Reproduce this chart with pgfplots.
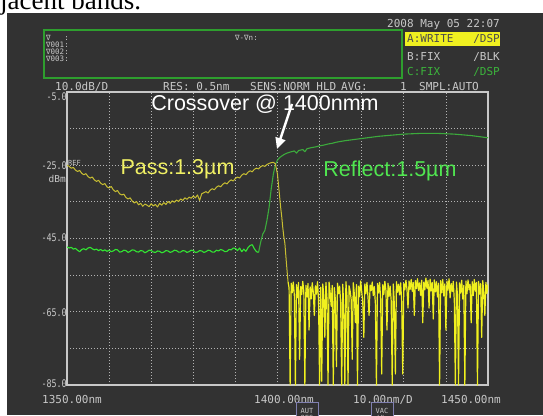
\documentclass[border=0pt]{standalone}
\usepackage{fontspec}
\setmainfont{Liberation Sans}
\newfontfamily\osa{DejaVu Sans Mono}
\newfontfamily\serif{Liberation Serif}
\usepackage{graphicx}
\usepackage{pgfplots}
\pgfplotsset{compat=1.18}
\usetikzlibrary{arrows.meta}

\definecolor{scr}{HTML}{323232}
\definecolor{framec}{HTML}{C8C8C8}
\definecolor{gridc}{HTML}{B4B4B4}
\definecolor{txt}{HTML}{C8C8C8}
\definecolor{boxgreen}{HTML}{2E9E2E}
\definecolor{hlyel}{HTML}{F0F020}
\definecolor{cgreen}{HTML}{3CB43C}
\definecolor{yelA}{HTML}{C8BE32}
\definecolor{yelB}{HTML}{F0F01E}
\definecolor{grnA}{HTML}{32E632}
\definecolor{grnB}{HTML}{3CAA3C}
\definecolor{passc}{HTML}{F0F064}
\definecolor{reflc}{HTML}{50E650}
\definecolor{btnc}{HTML}{8080B0}

\newcommand\hd{\osa\fontsize{11}{11}\selectfont}
\newcommand\tl[1]{\scalebox{0.8}[1]{\osa\fontsize{10.5}{11}\selectfont #1}}

\begin{document}
\begin{tikzpicture}[x=1pt,y=1pt]
\useasboundingbox (0,0) rectangle (543,415);
\fill[white] (0,0) rectangle (543,415);
\fill[scr] (7,0) rectangle (543,402);
\node[anchor=base west, inner sep=0, font=\serif\fontsize{27}{27}\selectfont] at (0,405) {jacent bands.};

% header
\node[anchor=base east, inner sep=0, text=txt, font=\hd] at (500,387) {2008 May 05 22:07};
\draw[boxgreen, line width=1.2pt] (44,385) rectangle (402,337);
\begin{scope}[every node/.style={anchor=base west, inner sep=0, text=txt, font=\osa\fontsize{7.5}{8}\selectfont}]
\node at (46,374) {∇\ \ \ :};
\node at (46,367) {∇001:};
\node at (46,360) {∇002:};
\node at (46,353) {∇003:};
\node at (235,374) {∇-∇n:};
\end{scope}
\fill[hlyel] (405,383) rectangle (500,369);
\begin{scope}[every node/.style={inner sep=0, font=\hd}]
\node[anchor=base west, text=black!70] at (407,372) {A:WRITE};
\node[anchor=base east, text=black!70] at (500,372) {/DSP};
\node[anchor=base west, text=txt] at (407,354) {B:FIX};
\node[anchor=base east, text=txt] at (500,354) {/BLK};
\node[anchor=base west, text=cgreen] at (407,339) {C:FIX};
\node[anchor=base east, text=cgreen] at (500,339) {/DSP};
\node[anchor=base west, text=txt] at (55,324.5) {10.0dB/D};
\node[anchor=base west, text=txt] at (163,324.5) {RES: 0.5nm};
\node[anchor=base west, text=txt] at (250,324.5) {SENS:NORM HLD};
\node[anchor=base west, text=txt] at (341,324.5) {AVG:};
\node[anchor=base west, text=txt] at (400,324.5) {1};
\node[anchor=base west, text=txt] at (419,324.5) {SMPL:AUTO};
\node[anchor=base, text=txt] at (72,11.5) {1350.00nm};
\node[anchor=base, text=txt] at (284,11.5) {1400.00nm};
\node[anchor=base, text=txt] at (383,11.5) {10.00nm/D};
\node[anchor=base, text=txt] at (471,11.5) {1450.00nm};
\end{scope}

% y labels
\begin{scope}[every node/.style={anchor=base east, inner sep=0, text=txt}]
\node at (67,314) {\tl{-5.0}};
\node at (67,245) {\tl{-25.0}};
\node at (66,232) {\osa\fontsize{9.5}{9.5}\selectfont dBm};
\node at (67,173) {\tl{-45.0}};
\node at (67,99) {\tl{-65.0}};
\node at (67,28) {\tl{-85.0}};
\end{scope}
\node[anchor=base west, inner sep=0, text=txt, font=\osa\fontsize{7}{7}\selectfont] at (68,249) {REF};

% soft keys
\draw[btnc, fill=scr, line width=1pt] (296,-10) rectangle (318,13);
\node[inner sep=0, text=txt, font=\osa\fontsize{7}{7}\selectfont, align=center] at (307,1) {AUT\\OFS};
\draw[btnc, fill=scr, line width=1pt] (371,-10) rectangle (393,13);
\node[inner sep=0, text=txt, font=\osa\fontsize{7}{7}\selectfont, align=center] at (382,1) {VAC\\WL};

\begin{axis}[
    at={(67pt,30pt)}, anchor=south west,
    width=421pt, height=293pt, scale only axis,
    xmin=1350, xmax=1450, ymin=-85, ymax=-5,
    xtick={1350,1360,...,1450}, ytick={-85,-75,...,-5},
    xticklabels={}, yticklabels={},
    major tick length=0pt,
    grid=major,
    major grid style={color=gridc, line width=0.8pt, dash pattern=on 1pt off 2pt},
    axis line style={color=framec, line width=1.1pt},
]
% trace C (reflect), left part
\addplot[grnA, line width=1.1pt, line join=round] coordinates {
(1350,-47.3) (1350.5,-47.6) (1351,-47.4) (1351.5,-47.9) (1352,-47.7) (1352.5,-48.2)
(1353,-48.6) (1353.5,-48.0) (1354,-47.8) (1354.5,-48.1) (1355,-47.6) (1355.5,-47.4)
(1356,-47.8) (1356.5,-48.1) (1357,-47.9) (1357.5,-48.3) (1358,-48.0) (1358.5,-48.4)
(1359,-48.1) (1359.5,-48.5) (1360,-48.2) (1360.5,-48.6) (1361,-48.4) (1361.5,-48.0)
(1362,-48.1) (1362.5,-48.7) (1363,-48.6) (1363.5,-48.2) (1364,-48.3) (1364.5,-48.8)
(1365,-48.5) (1365.5,-48.1) (1366,-48.2) (1366.5,-48.6) (1367,-48.7) (1367.5,-48.3)
(1368,-48.4) (1368.5,-48.9) (1369,-48.6) (1369.5,-48.2) (1370,-48.3) (1370.5,-48.7)
(1371,-48.8) (1371.5,-48.4) (1372,-48.5) (1372.5,-48.9) (1373,-48.7) (1373.5,-48.3)
(1374,-48.4) (1374.5,-48.8) (1375,-48.6) (1375.5,-48.2) (1376,-48.3) (1376.5,-48.7)
(1377,-48.7) (1377.5,-48.3) (1378,-48.4) (1378.5,-48.8) (1379,-48.6) (1379.5,-48.2)
(1380,-48.3) (1380.5,-48.8) (1381,-48.7) (1381.5,-48.3) (1382,-48.4) (1382.5,-48.8)
(1383,-48.6) (1383.5,-48.2) (1384,-48.3) (1384.5,-48.7) (1385,-48.7) (1385.5,-48.2)
(1386,-48.4) (1386.5,-48.0) (1387,-48.2) (1387.5,-48.6) (1388,-48.5) (1388.5,-48.0)
(1389,-48.1) (1389.5,-47.6) (1390,-47.7) (1390.5,-48.3) (1391,-47.6) (1391.5,-48.6)
(1392,-47.9) (1392.5,-48.5) (1393,-47.5) (1393.5,-46.9) (1394,-46.7) (1394.5,-47.8)
(1395,-48.6) (1395.5,-48.8)
};
% trace C, edge and right part
\addplot[grnB, line width=1.1pt, line join=round] coordinates {
(1395.5,-48.8) (1396,-46.0) (1396.5,-43.8) (1397,-42.8) (1397.5,-40.0) (1398,-36.5)
(1398.5,-31.5) (1399,-27.5) (1399.5,-24.8) (1400,-23.6) (1400.5,-22.9) (1401,-22.5)
(1401.5,-22.1) (1402,-21.8) (1403,-21.4) (1404,-21.1) (1404.5,-21.7) (1405,-21.0)
(1406,-20.7) (1406.5,-21.3) (1407,-20.5) (1408,-20.2) (1409,-20.0) (1410,-19.7)
(1411,-19.5) (1412,-19.2) (1413,-19.0) (1414,-18.7) (1415,-18.5) (1416,-18.3)
(1418,-18.0) (1420,-17.7) (1422,-17.4) (1424,-17.1) (1426,-16.9) (1428,-16.7)
(1430,-16.5) (1432,-16.4) (1434,-16.3) (1436,-16.3) (1438,-16.3) (1440,-16.4)
(1442,-16.5) (1444,-16.7) (1446,-16.9) (1448,-17.2) (1450,-17.5)
};
% trace A (pass), passband and edge
\addplot[yelA, line width=1.0pt, line join=round] coordinates {
(1350,-25.0) (1350.5,-25.3) (1351,-25.8) (1351.5,-25.6) (1352,-26.3) (1352.5,-26.7)
(1353,-26.4) (1353.5,-27.2) (1354,-27.6) (1354.5,-27.3) (1355,-28.1) (1355.5,-28.5)
(1356,-28.2) (1356.5,-29.0) (1357,-29.4) (1357.5,-29.1) (1358,-29.9) (1358.5,-30.3)
(1359,-30.0) (1359.5,-30.9) (1360,-31.2) (1360.5,-30.8) (1361,-31.7) (1361.5,-32.2)
(1362,-31.9) (1362.5,-32.8) (1363,-33.1) (1363.5,-32.9) (1364,-33.8) (1364.5,-34.2)
(1365,-33.9) (1365.5,-34.8) (1366,-35.3) (1366.5,-34.9) (1367,-35.8) (1367.5,-35.4)
(1368,-36.2) (1368.5,-35.6) (1369,-35.9) (1369.5,-36.3) (1370,-35.5) (1370.5,-36.1)
(1371,-35.7) (1371.5,-36.4) (1372,-35.4) (1372.5,-35.9) (1373,-35.2) (1373.5,-35.7)
(1374,-34.9) (1374.5,-35.4) (1375,-34.7) (1375.5,-35.1) (1376,-34.5) (1376.5,-34.9)
(1377,-34.2) (1377.5,-34.6) (1378,-33.9) (1378.5,-34.3) (1379,-33.7) (1379.5,-34.0)
(1380,-33.4) (1380.5,-33.9) (1381,-33.1) (1381.5,-34.6) (1382,-32.8) (1382.5,-32.5)
(1383,-32.2) (1383.5,-32.6) (1384,-31.8) (1384.5,-31.4) (1385,-31.7) (1385.5,-31.0)
(1386,-30.6) (1386.5,-30.9) (1387,-30.2) (1387.5,-29.8) (1388,-30.1) (1388.5,-29.4)
(1389,-29.0) (1389.5,-29.3) (1390,-28.6) (1390.5,-28.2) (1391,-28.5) (1391.5,-27.7)
(1392,-27.3) (1392.5,-27.6) (1393,-26.9) (1393.5,-26.5) (1394,-26.8) (1394.5,-26.1)
(1395,-25.8) (1395.5,-26.0) (1396,-25.4) (1396.5,-25.1) (1397,-25.3) (1397.5,-24.8)
(1398,-24.5) (1398.5,-24.3) (1399,-24.2) (1399.5,-24.6) (1400,-27.5) (1400.25,-30.5)
(1400.5,-33.5) (1400.75,-36.5) (1401,-39.0) (1401.25,-42.0) (1401.5,-44.5) (1401.75,-46.3)
(1402,-50.0) (1402.25,-53.5) (1402.5,-56.8)
};
% trace A, stopband noise
\addplot[yelB, line width=1.2pt, line join=round] coordinates {
(1402.5,-56.8) (1402.75,-58.5) (1403,-85) (1403.25,-57.2) (1403.5,-59.8) (1403.75,-56.9)
(1404,-60.5) (1404.25,-85) (1404.5,-57.6) (1404.75,-61.2) (1405,-57.0) (1405.25,-78)
(1405.5,-58.1) (1405.75,-60.3) (1406,-56.7) (1406.25,-59.4) (1406.5,-85) (1406.75,-57.8)
(1407,-60.9) (1407.25,-57.3) (1407.5,-70) (1407.75,-58.2) (1408,-61.5) (1408.25,-57.1)
(1408.5,-59.6) (1408.75,-66) (1409,-57.9) (1409.25,-60.2) (1409.5,-56.8) (1409.75,-62.0)
(1410,-85) (1410.25,-58.3) (1410.5,-84) (1410.75,-57.4) (1411,-60.8) (1411.25,-72)
(1411.5,-57.0) (1411.75,-61.3) (1412,-85) (1412.25,-56.9) (1412.5,-59.7) (1412.75,-63.5)
(1413,-57.8) (1413.25,-85) (1413.5,-58.4) (1413.75,-61.8) (1414,-80) (1414.25,-57.2)
(1414.5,-60.1) (1414.75,-58.0) (1415,-62.4) (1415.25,-85) (1415.5,-57.5) (1415.75,-64.0)
(1416,-85) (1416.25,-56.8) (1416.5,-60.7) (1416.75,-85) (1417,-57.9) (1417.25,-59.3)
(1417.5,-61.6) (1417.75,-78) (1418,-57.1) (1418.25,-60.2) (1418.5,-68) (1418.75,-57.6)
(1419,-85) (1419.25,-58.0) (1419.5,-60.9) (1419.75,-56.6) (1420,-59.5) (1420.25,-62.3)
(1420.5,-72) (1420.75,-57.4) (1421,-60.0) (1421.25,-57.0) (1421.5,-61.1) (1421.75,-66)
(1422,-57.7) (1422.25,-59.2) (1422.5,-56.9) (1422.75,-60.6) (1423,-58.1) (1423.25,-62.8)
(1423.5,-85) (1423.75,-57.3) (1424,-59.9) (1424.25,-57.0) (1424.5,-61.4) (1424.75,-82)
(1425,-57.6) (1425.25,-60.3) (1425.5,-56.7) (1425.75,-59.1) (1426,-70) (1426.25,-57.2)
(1426.5,-60.8) (1426.75,-58.0) (1427,-61.9) (1427.25,-85) (1427.5,-57.4) (1427.75,-63.0)
(1428,-82) (1428.25,-56.8) (1428.5,-59.7) (1428.75,-57.5) (1429,-60.4) (1429.25,-57.1)
(1429.5,-62.2) (1429.75,-82) (1430,-57.3) (1430.25,-59.0) (1430.5,-56.4) (1430.75,-58.8)
(1431,-64) (1431.25,-56.6) (1431.5,-58.9) (1431.75,-56.2) (1432,-59.4) (1432.25,-57.0)
(1432.5,-66) (1432.75,-56.5) (1433,-58.7) (1433.25,-56.0) (1433.5,-59.2) (1433.75,-57.1)
(1434,-60.5) (1434.25,-56.4) (1434.5,-68) (1434.75,-56.9) (1435,-59.0) (1435.25,-55.8)
(1435.5,-58.6) (1435.75,-56.5) (1436,-64) (1436.25,-56.1) (1436.5,-59.3) (1436.75,-57.0)
(1437,-67) (1437.25,-56.3) (1437.5,-59.6) (1437.75,-56.8) (1438,-61.0) (1438.25,-57.2)
(1438.5,-85) (1438.75,-56.5) (1439,-59.8) (1439.25,-56.2) (1439.5,-60.7) (1439.75,-57.4)
(1440,-70) (1440.25,-56.6) (1440.5,-59.1) (1440.75,-56.0) (1441,-61.2) (1441.25,-57.3)
(1441.5,-59.5) (1441.75,-56.7) (1442,-62.0) (1442.25,-85) (1442.5,-56.9) (1442.75,-60.4)
(1443,-85) (1443.25,-57.1) (1443.5,-59.9) (1443.75,-56.4) (1444,-61.5) (1444.25,-57.8)
(1444.5,-85) (1444.75,-56.6) (1445,-60.1) (1445.25,-56.3) (1445.5,-59.0) (1445.75,-57.5)
(1446,-68) (1446.25,-56.8) (1446.5,-60.6) (1446.75,-56.2) (1447,-59.4) (1447.25,-57.0)
(1447.5,-85) (1447.75,-56.7) (1448,-60.2) (1448.25,-57.3) (1448.5,-72) (1448.75,-56.5)
(1449,-59.7) (1449.25,-66) (1449.5,-57.0) (1449.75,-60.0) (1450,-57.4)
};
\end{axis}

% annotations
\node[anchor=base, inner sep=0, text=white, font=\fontsize{21.5}{21.5}\selectfont] at (265,304) {Crossover @ 1400nmm};
\draw[white, line width=2.4pt, -{Triangle[length=11pt,width=10pt]}] (292,311) -- (277,266);
\node[anchor=base, inner sep=0, text=passc, font=\fontsize{21.5}{21.5}\selectfont] at (177.5,240) {Pass:1.3µm};
\node[anchor=base, inner sep=0, text=reflc, font=\fontsize{21.5}{21.5}\selectfont] at (390,238) {Reflect:1.5µm};
\end{tikzpicture}
\end{document}
